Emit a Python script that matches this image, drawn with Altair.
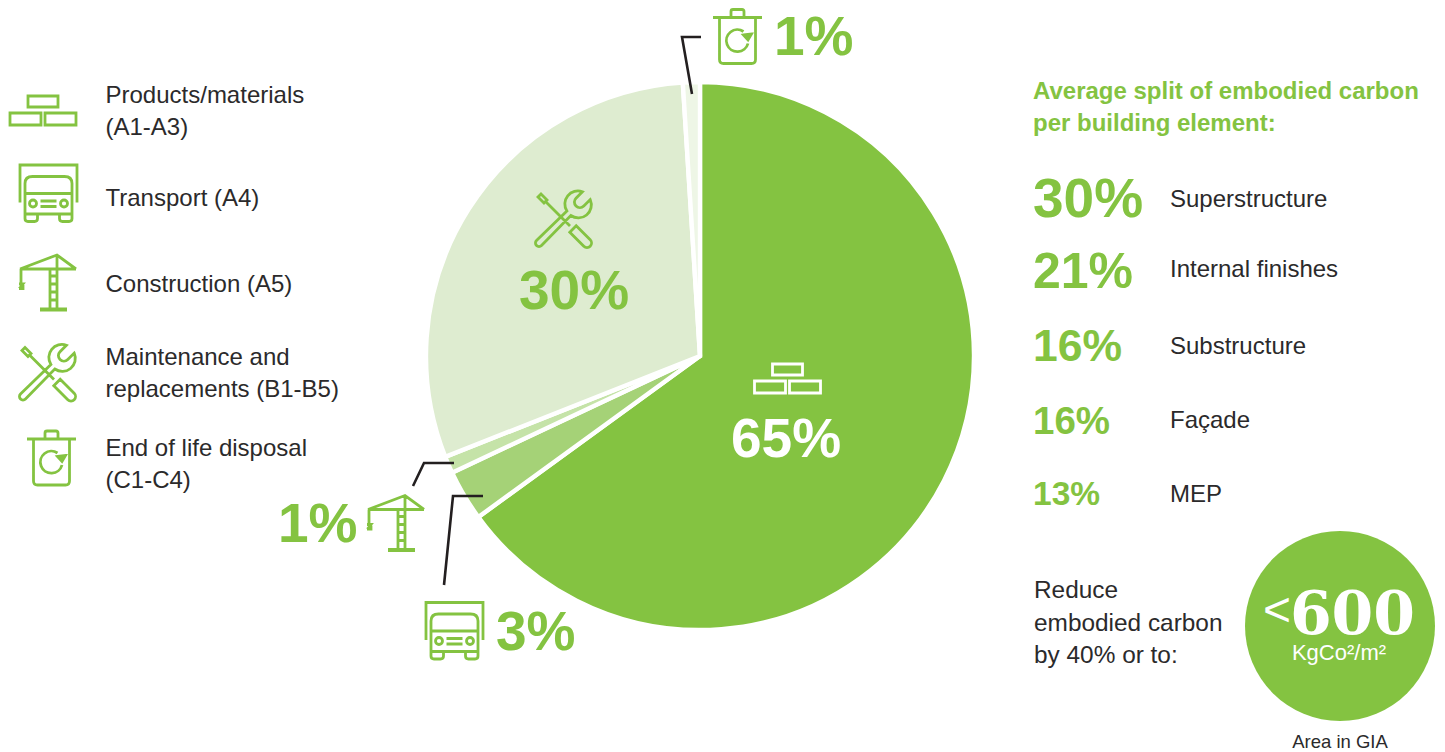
import altair as alt
import pandas as pd

W, H = 1445, 752
GREEN = "#84c341"
INK = "#2b2a2b"
LEADER = "#231f20"
SANS = "Liberation Sans"

# Life-cycle stages, clockwise from twelve o'clock
STAGES = ["Products/materials", "Transport", "Construction", "Maintenance", "End of life"]
STAGE_SHARE = [65, 3, 1, 30, 1]
STAGE_COLORS = ["#84c341", "#a5d277", "#c5e3a8", "#deecd0", "#eef6e6"]

# Building-element split
ELEMENTS = ["Superstructure", "Internal finishes", "Substructure", "Façade", "MEP"]
ELEMENT_SHARE = [30, 21, 16, 16, 13]

# Icon outlines, in pixels around each icon's own centre
BRICKS = "M-15,-14H15V-3H-15Z M-33,3H-2V15H-33Z M2,3H33V15H2Z"
TRUCK = (
    "M-28.5,9V-28.5H28.5V9 "
    "M-23.5,20.5V-10Q-23.5,-17,-16,-17H16Q23.5,-17,23.5,-10V20.5Z M-23.5,0H23.5 "
    "M-23.5,20.5V25Q-23.5,28,-20.5,28H-14Q-11,28,-11,25V20.5 "
    "M23.5,20.5V25Q23.5,28,20.5,28H14Q11,28,11,25V20.5 "
    "M-12,10a3.5,3.5 0 1,0 -7,0a3.5,3.5 0 1,0 7,0 "
    "M19,10a3.5,3.5 0 1,0 -7,0a3.5,3.5 0 1,0 7,0 "
    "M-8,7.5H8 M-8,13H8"
)
CRANE = (
    "M-28,-14H28 M-28,-14L9,-28L28,-14 M9,-28V26 M2,-14V26 M-8,27H19 M-8,26H19 "
    "M2,-7H9 M2,1H9 M2,9H9 M2,17H9 "
    "M-27,-14V1 M-29,1H-25L-27,3.5H-25V5.5H-29"
)
TOOLS = (
    "M-21.5,26.5L7.8,-3.5A13,13 0 0 0 27.2,-19.4L20.8,-13A5.5,5.5 0 0 1 13,-20.8"
    "L19.4,-27.2A13,13 0 0 0 3.9,-8L-26.5,21.5A3.5,3.5 0 0 0 -21.5,26.5Z "
    "M-25,-22L-22,-25L-16,-19L-19,-16Z M-17,-17L7,7 "
    "M13.2,6.8L27.2,20.8A4.5,4.5 0 0 1 20.8,27.2L6.8,13.2Z"
)
BIN = (
    "M-24.5,-19H24.5 M-6.5,-19V-25Q-6.5,-27,-4.5,-27H4.5Q6.5,-27,6.5,-25V-19 "
    "M-18,-19V23Q-18,27,-14,27H14Q18,27,18,23V-19 "
    "M6,-5A11,11 0 1 0 10.5,7 M6,-1.5L14,-2.5L10.5,3.5Z M8,-1L12,-1.5L10,2Z"
)

x_scale = alt.Scale(domain=[0, W], range=[0, W])
y_scale = alt.Scale(domain=[0, H], range=[0, H])
X = alt.X("x:Q", scale=x_scale, axis=None)
Y = alt.Y("y:Q", scale=y_scale, axis=None)


def texts(rows, **mark):
    """One text layer: rows are (text, x, baseline y)."""
    frame = pd.DataFrame(rows, columns=["t", "x", "y"])
    props = dict(font=SANS, align="left", baseline="alphabetic")
    props.update(mark)
    return alt.Chart(frame).mark_text(**props).encode(x=X, y=Y, text="t:N")


def icon(path, spots, color=GREEN, width=2.8):
    """Stroked outline drawn at each (x, y) spot, one pixel per path unit."""
    frame = pd.DataFrame(spots, columns=["x", "y"])
    return (
        alt.Chart(frame)
        .mark_point(shape=path, size=4, filled=False, stroke=color, strokeWidth=width, opacity=1)
        .encode(x=X, y=Y)
    )


def leader(points):
    frame = pd.DataFrame(points, columns=["x", "y"]).assign(step=range(len(points)))
    return (
        alt.Chart(frame)
        .mark_line(color=LEADER, strokeWidth=2.6, strokeJoin="miter")
        .encode(x=X, y=Y, order="step:Q")
    )


pie_data = pd.DataFrame(
    {"stage": STAGES, "share": STAGE_SHARE, "seq": range(len(STAGES))}
)
pie = (
    alt.Chart(pie_data)
    .mark_arc(outerRadius=274, stroke="white", strokeWidth=4.4)
    .encode(
        theta=alt.Theta("share:Q", stack=True),
        order=alt.Order("seq:Q"),
        color=alt.Color(
            "stage:N",
            scale=alt.Scale(domain=STAGES, range=STAGE_COLORS),
            legend=None,
        ),
        x=alt.value(700),
        y=alt.value(356),
    )
)

legend_text = texts(
    [
        ("Products/materials", 105.5, 103),
        ("(A1-A3)", 105.5, 135),
        ("Transport (A4)", 105.5, 206),
        ("Construction (A5)", 105.5, 292),
        ("Maintenance and", 105.5, 365),
        ("replacements (B1-B5)", 105.5, 397),
        ("End of life disposal", 105.5, 456),
        ("(C1-C4)", 105.5, 488),
    ],
    fontSize=24,
    color=INK,
)

pct = [f"{v}%" for v in STAGE_SHARE]
pie_big = texts([(pct[3], 519, 309)], fontSize=55, fontWeight="bold", color=GREEN)
pie_main = texts([(pct[0], 731, 457)], fontSize=55, fontWeight="bold", color="white")
callouts = texts(
    [(pct[4], 774, 55), (pct[2], 278, 542), (pct[1], 496, 650)],
    fontSize=55,
    fontWeight="bold",
    color=GREEN,
)

heading = texts(
    [
        ("Average split of embodied carbon", 1033, 99),
        ("per building element:", 1033, 131),
    ],
    fontSize=24,
    fontWeight="bold",
    color=GREEN,
)

element_sizes = [55, 50, 44.5, 38.5, 33.5]
element_baselines = [217, 288, 361, 434, 505]
element_pct = [
    texts([(f"{v}%", 1033, b)], fontSize=s, fontWeight="bold", color=GREEN)
    for v, s, b in zip(ELEMENT_SHARE, element_sizes, element_baselines)
]
element_names = texts(
    list(zip(ELEMENTS, [1170] * 5, [207, 277, 354, 428, 502])),
    fontSize=24,
    color=INK,
)

reduce_text = texts(
    [("Reduce", 1034, 598), ("embodied carbon", 1034, 631), ("by 40% or to:", 1034, 663)],
    fontSize=24.4,
    color=INK,
)

badge = (
    alt.Chart(pd.DataFrame({"x": [1340], "y": [626]}))
    .mark_point(shape="circle", filled=True, fill=GREEN, stroke=None, size=4 * 95 * 95, opacity=1)
    .encode(x=X, y=Y)
)
badge_lt = texts([("<", 1263, 626)], fontSize=48, color="white")
badge_num = texts(
    [("600", 1352.5, 634)],
    font="DejaVu Serif",
    fontSize=60,
    fontWeight="bold",
    color="white",
    align="center",
)
badge_unit = texts([("KgCo²/m²", 1339, 660)], fontSize=22, color="white", align="center")
area_note = texts([("Area in GIA", 1340, 748)], fontSize=18.5, color=INK, align="center")

chart = alt.layer(
    pie,
    badge,
    leader([(701, 37), (682, 37), (692, 94)]),
    leader([(454, 463), (424, 463), (413, 486)]),
    leader([(483, 496), (453, 496), (444, 585)]),
    icon(BRICKS, [(43, 110)]),
    icon(TRUCK, [(48.5, 193.5), (454.5, 631)]),
    icon(CRANE, [(48, 283), (396, 523.5)]),
    icon(TOOLS, [(47, 372.5), (563, 219)]),
    icon(BIN, [(51.5, 458), (737.5, 36.5)]),
    icon(BRICKS, [(787.5, 378)], color="white", width=2.8),
    legend_text,
    pie_big,
    pie_main,
    callouts,
    heading,
    *element_pct,
    element_names,
    reduce_text,
    badge_lt,
    badge_num,
    badge_unit,
    area_note,
).properties(
    width=W,
    height=H,
    padding=0,
    autosize=alt.AutoSizeParams(type="none"),
).configure_view(stroke=None)

chart.save("out.html", embed_options={"renderer": "svg", "actions": False})
